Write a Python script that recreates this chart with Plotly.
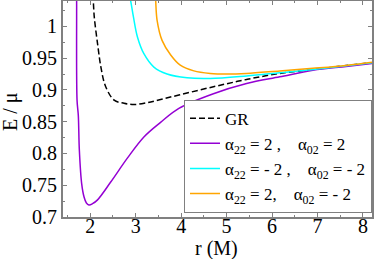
import plotly.graph_objects as go

# ---- data ----
gr_r = [2.05, 2.066, 2.088, 2.16, 2.234, 2.34, 2.525, 2.744, 2.963, 3.256, 3.547, 3.95, 4.71, 5.44, 6.17, 6.90, 7.63, 8.2]
gr_E = [1.05, 1.04, 1.015, 0.973, 0.936, 0.905, 0.884, 0.879, 0.877, 0.880, 0.885, 0.892, 0.905, 0.9165, 0.926, 0.932, 0.9385, 0.9428]

p_r = [1.698, 1.70, 1.709, 1.737, 1.76, 1.81, 1.865, 1.915, 1.97, 2.05, 2.16, 2.45, 2.82, 3.18, 3.547, 3.95, 4.71, 5.44, 6.17, 6.90, 7.63, 8.2]
p_E = [1.05, 1.04, 0.884, 0.860, 0.805, 0.753, 0.731, 0.722, 0.719, 0.721, 0.727, 0.755, 0.793, 0.826, 0.849, 0.871, 0.894, 0.910, 0.9206, 0.931, 0.937, 0.9417]

c_r = [2.86, 2.89, 2.95, 3.04, 3.18, 3.40, 3.69, 4.13, 4.64, 5.44, 6.17, 6.90, 7.63, 8.2]
c_E = [1.05, 1.04, 1.015, 0.983, 0.957, 0.936, 0.925, 0.919, 0.918, 0.922, 0.927, 0.932, 0.938, 0.943]

o_r = [3.43, 3.44, 3.47, 3.58, 3.77, 3.98, 4.28, 4.64, 5.0, 5.44, 6.17, 6.90, 7.63, 8.2]
o_E = [1.05, 1.04, 1.010, 0.978, 0.955, 0.939, 0.930, 0.926, 0.925, 0.926, 0.930, 0.934, 0.9385, 0.9435]

SP = "&nbsp;&nbsp;&nbsp;&nbsp;"
names = ["GR",
         "α<sub>22</sub> = 2 ," + SP + "α<sub>02</sub> = 2",
         "α<sub>22</sub> = - 2 ," + SP + "α<sub>02</sub> = - 2",
         "α<sub>22</sub> = 2," + SP + "α<sub>02</sub> = - 2"]
colors = ["black", "#9400D3", "#00FFFF", "#FFA500"]

x_title = "r (M)"
y_title = "E / μ"

x_range = [1.4, 8.2]
y_range = [0.7, 1.04]

FONT = "Liberation Serif"

fig = go.Figure()
series = [(gr_r, gr_E), (p_r, p_E), (c_r, c_E), (o_r, o_E)]
for i, (xs, ys) in enumerate(series):
    fig.add_trace(go.Scatter(
        x=xs, y=ys, mode="lines", name=names[i],
        line=dict(color=colors[i], width=1.5, shape="spline", smoothing=1.0,
                  dash="6px,3px" if i == 0 else "solid"),
    ))

axis_common = dict(
    showline=True, linecolor="#808080", linewidth=2, mirror="ticks",
    ticks="inside", ticklen=4, tickwidth=1, tickcolor="#808080",
    showgrid=False, zeroline=False, automargin=False,
    tickfont=dict(family=FONT, size=20, color="black"),
)

fig.update_xaxes(range=x_range, dtick=1, tick0=0, ticklabelstandoff=-10,
                 minor=dict(dtick=0.5, ticks="inside", ticklen=2, tickcolor="#808080"),
                 **axis_common)
fig.update_yaxes(range=y_range, dtick=0.05, tick0=0,
                 minor=dict(dtick=0.025, ticks="inside", ticklen=2, tickcolor="#808080"),
                 **axis_common)

fig.add_annotation(text=x_title, xref="paper", yref="paper", x=0.498, y=-0.145,
                   xanchor="center", yanchor="middle", showarrow=False,
                   font=dict(family=FONT, size=20, color="black"))
fig.add_annotation(text=y_title, xref="paper", yref="paper", x=-0.172, y=0.49,
                   xanchor="center", yanchor="middle", showarrow=False, textangle=-90,
                   font=dict(family=FONT, size=20, color="black"))

fig.update_layout(
    width=374, height=259,
    margin=dict(l=63, r=2, t=1, b=42),
    plot_bgcolor="white", paper_bgcolor="white",
    font=dict(family=FONT, size=20, color="black"),
    legend=dict(x=1, y=0.02, xanchor="right", yanchor="bottom",
                bgcolor="white", bordercolor="#808080", borderwidth=1,
                font=dict(family=FONT, size=17, color="black"),
                itemwidth=30, tracegroupgap=0),
    showlegend=True,
)

fig.write_html("out.html", config={"displayModeBar": False},
               post_script="document.body.style.margin='0';document.body.style.padding='0';document.body.style.overflow='hidden';")
